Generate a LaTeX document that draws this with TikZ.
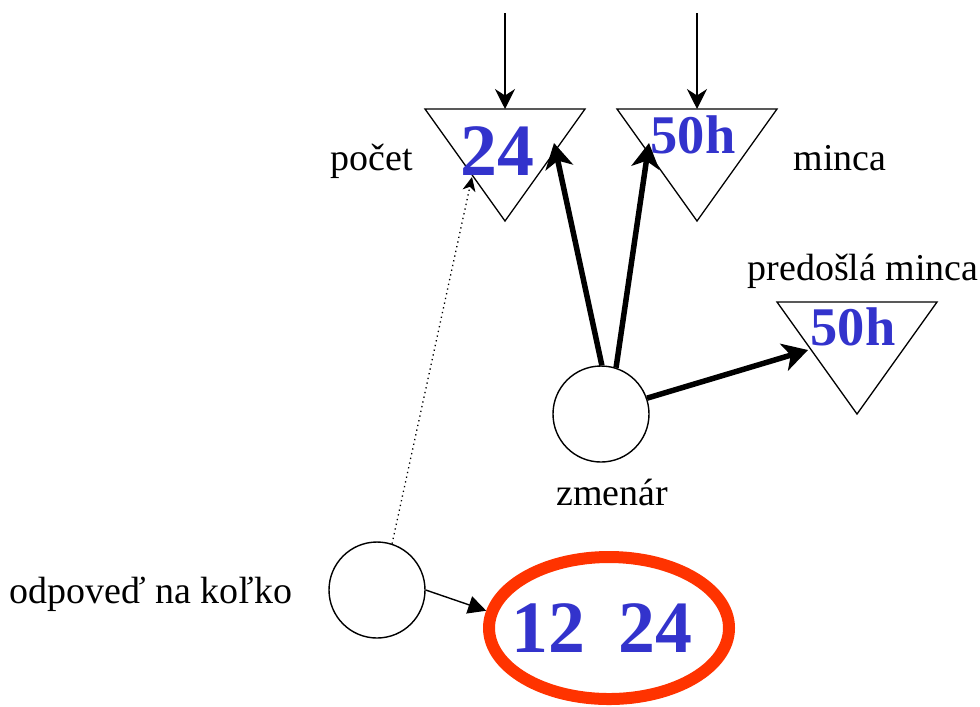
\documentclass[tikz,border=0pt]{standalone}
\usepackage{fontspec}
\setmainfont{Liberation Serif}
\usetikzlibrary{arrows.meta, shapes.geometric}
\definecolor{numc}{HTML}{3333CC}
\definecolor{ansc}{HTML}{FF3300}

\begin{document}
\begin{tikzpicture}[x=0.2mm, y=-0.2mm, >=Stealth,
    lbl/.style={anchor=base, font=\fontsize{21.6}{26}\selectfont},
    num/.style={numc, font=\fontsize{42}{50}\selectfont\bfseries, inner sep=0pt},
    coin/.style={numc, font=\fontsize{31}{36}\selectfont\bfseries, inner sep=0pt},
    agent/.style={circle, draw, line width=0.28mm, minimum size=19.2mm, inner sep=0pt},
    flow/.style={->, line width=0.28mm, >={Stealth[length=4mm, width=4mm, inset=1.3mm]}},
    push/.style={->, line width=1.1mm, >={Stealth[length=5mm, width=5.6mm, inset=1.4mm]}},
    peek/.style={->, dotted, line width=0.26mm, >={Stealth[length=2.8mm, width=2.6mm, inset=0.8mm]}},
    give/.style={->, line width=0.28mm, >={Triangle[length=3.6mm, width=3.6mm]}}]
  \useasboundingbox (0,0) rectangle (980,706);
  \foreach \t/\x/\y in {pc/505/109, mn/697/109, pm/857/302}{
    \draw[line width=0.26mm] (\x-80,\y) -- (\x+80,\y) -- (\x,\y+112) -- cycle;
    \coordinate (\t) at (\x,\y);
  }
  \foreach \t/\x in {pc/505, mn/697}{
    \coordinate (\t in) at (\x,13);
    \draw[flow] (\t in) -- (\t);
  }
  \node[num] (pc val) at (497,151) {24};
  \node[coin] (mn val) at (693,135) {50h};
  \node[coin] (pm val) at (853,327) {50h};
  \node[lbl] (pc lbl) at (372,170) {počet};
  \node[lbl] (mn lbl) at (840,170) {minca};
  \node[lbl] (pm lbl) at (863,280) {predošlá minca};
  \node[agent] (zm) at (601,414) {};
  \node[lbl] (zm lbl) at (612,505) {zmenár};
  \node[agent] (odp) at (377,590) {};
  \node[lbl] (odp lbl) at (151,603) {odpoveď na koľko};
  \node[ellipse, draw=ansc, line width=2.4mm, minimum width=48mm,
        minimum height=28.4mm, inner sep=0pt] (ans) at (609,628) {};
  \node[num] (ans val) at (602,628) {12\hspace{0.45em}24};
  \coordinate (pc hit) at (554,143);
  \coordinate (mn hit) at (649,143);
  \coordinate (pm hit) at (808,350);
  \coordinate (val hit) at (472,177);
  \draw[push] (zm.89) -- (pc hit);
  \draw[push] (zm.72) -- (mn hit);
  \draw[push] (zm.19) -- (pm hit);
  \draw[peek] (odp.72) -- (val hit);
  \draw[give] (odp.east) -- (ans.172);
\end{tikzpicture}
\end{document}
